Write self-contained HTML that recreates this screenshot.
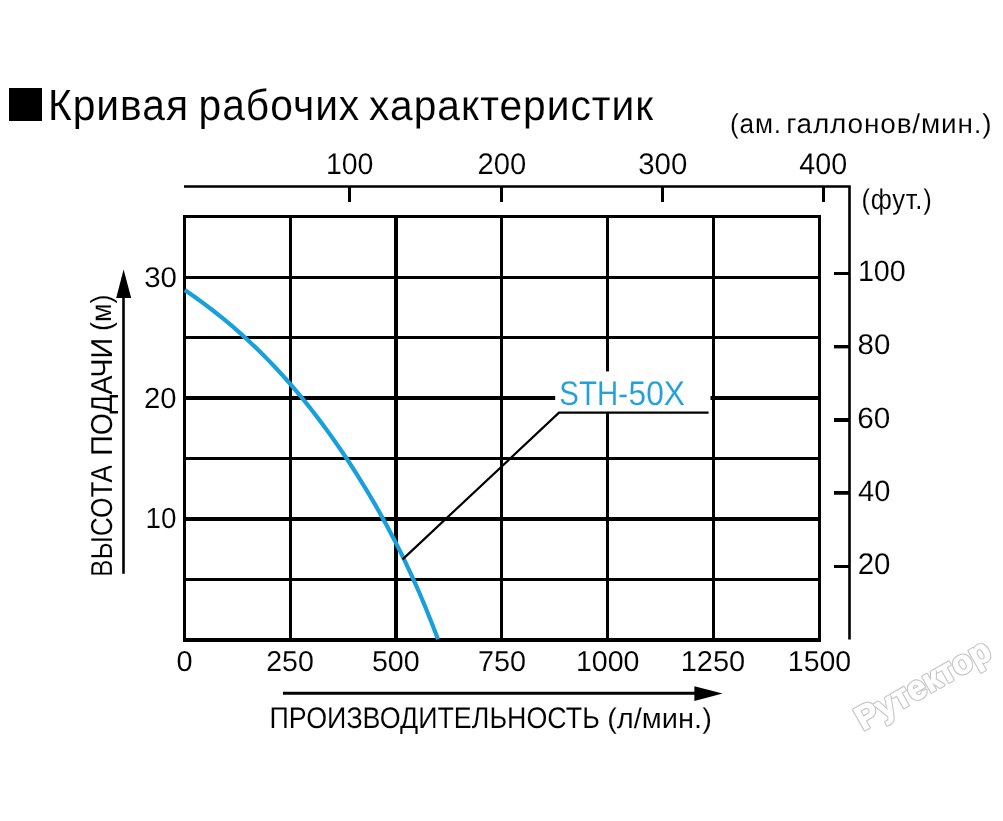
<!DOCTYPE html>
<html><head><meta charset="utf-8">
<style>
html,body{margin:0;padding:0;background:#fff;}
body{width:1003px;height:821px;overflow:hidden;position:relative;}
svg{position:absolute;left:0;top:0;will-change:transform;}
text{font-family:"Liberation Sans",sans-serif;text-rendering:geometricPrecision;fill:#000;stroke:#fff}
</style></head>
<body>
<svg width="1003" height="821" viewBox="0 0 1003 821">
<rect id="sq" x="9" y="88" width="33" height="33" fill="#000"/>
<g id="axes" stroke="#000" fill="none">
<path d="M184 186.5 H849.5 V639.5" stroke-width="2.6"/>
<path d="M349.5 186 V202 M501.5 186 V202 M662.5 186 V202 M823.5 186 V202" stroke-width="3"/>
<path d="M834 273.5 H849 M834 566.5 H849" stroke-width="3"/>
<path d="M834 346.7 H849" stroke-width="3.4"/>
<path d="M834 420 H849 M834 492.8 H849" stroke-width="3.8"/>
</g>
<g id="grid" stroke="#000" fill="none">
<path stroke-width="3" d="M184.5 215 V642 M290.5 215 V642 M501.5 215 V642 M607.5 215 V642 M713.5 215 V642 M819.5 215 V642"/>
<path stroke-width="4" d="M396 215 V642"/>
<path stroke-width="3" d="M183 216.5 H821 M183 277.5 H821 M183 337.5 H821 M183 458.5 H821 M183 579.5 H821"/>
<path stroke-width="4" d="M183 398 H821 M183 519 H821 M183 640 H821"/>
</g>
<g id="arrows">
<path d="M123.5 298 V573.7" stroke="#000" stroke-width="2.6"/>
<path d="M116.2 298 L131.2 298 L123.6 269.5 Z" fill="#000"/>
<path d="M283 693.3 H695" stroke="#000" stroke-width="3"/>
<path d="M694.4 686.2 L694.4 700.9 L722.6 693.5 Z" fill="#000"/>
</g>
<text id="title1" transform="matrix(0.99431 0 0 1.06214 47.909 119.773)" font-size="41" text-anchor="start" stroke-width="0.1" letter-spacing="1">Кривая</text>
<text id="title2" transform="matrix(0.99350 0 0 1.06709 198.539 119.503)" font-size="41" text-anchor="start" stroke-width="0.1" letter-spacing="1">рабочих</text>
<text id="title3" transform="matrix(0.99367 0 0 1.03902 369.069 120.442)" font-size="41" text-anchor="start" stroke-width="0.1" letter-spacing="1">характеристик</text>
<text id="gal1" transform="matrix(0.97052 0 0 1.01198 730.121 132.669)" font-size="27" text-anchor="start" stroke-width="0.1" letter-spacing="0.8">(ам.</text>
<text id="gal2" transform="matrix(1.03632 0 0 1.01247 786.156 132.670)" font-size="27" text-anchor="start" stroke-width="0.1" letter-spacing="0.8">галлонов/мин.)</text>
<text id="ft" transform="matrix(0.91456 0 0 1.01811 861.418 208.535)" font-size="28" text-anchor="start" stroke-width="0.1" letter-spacing="0.8">(фут.)</text>
<text id="t100" transform="matrix(0.94908 0 0 0.99057 325.916 173.528)" font-size="30" text-anchor="start" stroke-width="0.1">100</text>
<text id="t200" transform="matrix(0.97506 0 0 0.99057 477.401 173.528)" font-size="30" text-anchor="start" stroke-width="0.1">200</text>
<text id="t300" transform="matrix(0.98128 0 0 0.99057 638.132 173.528)" font-size="30" text-anchor="start" stroke-width="0.1">300</text>
<text id="t400" transform="matrix(0.95643 0 0 0.99057 799.269 173.528)" font-size="30" text-anchor="start" stroke-width="0.1">400</text>
<text id="r100" transform="matrix(0.95725 0 0 0.98444 857.892 280.646)" font-size="30" text-anchor="start" stroke-width="0.1">100</text>
<text id="r80" transform="matrix(0.98126 0 0 0.94973 857.542 353.573)" font-size="30" text-anchor="start" stroke-width="0.1">80</text>
<text id="r60" transform="matrix(0.99117 0 0 0.98333 857.283 427.602)" font-size="30" text-anchor="start" stroke-width="0.1">60</text>
<text id="r40" transform="matrix(0.96980 0 0 0.98666 858.086 500.590)" font-size="30" text-anchor="start" stroke-width="0.1">40</text>
<text id="r20" transform="matrix(0.98209 0 0 0.99776 857.636 574.345)" font-size="30" text-anchor="start" stroke-width="0.1">20</text>
<text id="l30" transform="matrix(0.98212 0 0 0.95125 144.217 286.521)" font-size="30" text-anchor="start" stroke-width="0.1">30</text>
<text id="l20" transform="matrix(0.97554 0 0 0.97277 144.015 407.653)" font-size="30" text-anchor="start" stroke-width="0.1">20</text>
<text id="l10" transform="matrix(0.92815 0 0 0.97242 145.479 528.412)" font-size="30" text-anchor="start" stroke-width="0.1">10</text>
<text id="b0" transform="matrix(0.96346 0 0 0.95705 176.556 671.437)" font-size="30" text-anchor="start" stroke-width="0.1">0</text>
<text id="b250" transform="matrix(0.95119 0 0 0.95705 266.153 671.437)" font-size="30" text-anchor="start" stroke-width="0.1">250</text>
<text id="b500" transform="matrix(0.95283 0 0 0.95705 371.957 671.437)" font-size="30" text-anchor="start" stroke-width="0.1">500</text>
<text id="b750" transform="matrix(0.95786 0 0 0.95705 477.913 671.437)" font-size="30" text-anchor="start" stroke-width="0.1">750</text>
<text id="b1000" transform="matrix(0.95200 0 0 0.95705 575.941 671.437)" font-size="30" text-anchor="start" stroke-width="0.1">1000</text>
<text id="b1250" transform="matrix(0.96713 0 0 0.95705 680.688 671.437)" font-size="30" text-anchor="start" stroke-width="0.1">1250</text>
<text id="b1500" transform="matrix(0.94858 0 0 0.95705 787.874 671.437)" font-size="30" text-anchor="start" stroke-width="0.1">1500</text>
<text id="ylab1" transform="translate(111.795 577.039) rotate(-90) scale(0.90474 1.04546)" font-size="29" stroke-width="0.1">ВЫСОТА</text>
<text id="ylab2" transform="translate(111.647 455.853) rotate(-90) scale(0.98440 1.04497)" font-size="29" stroke-width="0.1">ПОДАЧИ</text>
<text id="ylab3" transform="translate(111.196 330.895) rotate(-90) scale(0.92809 0.99939)" font-size="29" stroke-width="0.1">(м)</text>
<text id="xlab1" transform="matrix(0.95935 0 0 1.06359 269.555 728.497)" font-size="28" text-anchor="start" stroke-width="0.1">ПРОИЗВОДИТЕЛЬНОСТЬ</text>
<text id="xlab2" transform="matrix(1.03672 0 0 1.01813 607.191 727.606)" font-size="28" text-anchor="start" stroke-width="0.1">(л/мин.)</text>

<path id="curve" d="M184.80,290.10 L195.20,297.23 L204.94,304.35 L214.25,311.48 L223.16,318.61 L231.68,325.73 L239.86,332.86 L247.71,339.99 L255.26,347.11 L262.53,354.24 L269.54,361.37 L276.31,368.49 L282.85,375.62 L289.18,382.74 L295.31,389.87 L301.26,397.00 L307.05,404.12 L312.67,411.25 L318.15,418.38 L323.49,425.50 L328.69,432.63 L333.77,439.76 L338.73,446.88 L343.58,454.01 L348.32,461.14 L352.95,468.26 L357.49,475.39 L361.93,482.52 L366.27,489.64 L370.52,496.77 L374.68,503.90 L378.74,511.02 L382.72,518.15 L386.62,525.28 L390.42,532.40 L394.14,539.53 L397.78,546.66 L401.33,553.78 L404.80,560.91 L408.18,568.03 L411.49,575.16 L414.71,582.29 L417.86,589.41 L420.93,596.54 L423.93,603.67 L426.87,610.79 L429.73,617.92 L432.54,625.05 L435.29,632.17 L438.00,639.30" fill="none" stroke="#17a0dc" stroke-width="4.2" stroke-linejoin="round"/>
<rect id="sthbg" x="555.2" y="371.4" width="155.3" height="40.6" fill="#fff"/>
<text id="sth1" transform="matrix(0.89044 0 0 1.03689 559.358 404.591)" font-size="33" text-anchor="start" stroke-width="0.1" style="fill:#22a0d8">STH-</text>
<text id="sth2" transform="matrix(0.95999 0 0 1.03686 628.605 404.689)" font-size="33" text-anchor="start" stroke-width="0.1" style="fill:#22a0d8">50X</text>
<path id="leader" d="M708.6 412.7 H559 L402.6 559.4" fill="none" stroke="#000" stroke-width="2.2"/>
<g id="wm" transform="translate(863 731) rotate(-29.5)" font-size="33.5" font-weight="bold" style="letter-spacing:0px">
<text style="fill:#fff;stroke:#c8c8c8;stroke-width:3.2;stroke-linejoin:round">Рутектор</text>
<text style="fill:#fff;stroke:#fff;stroke-width:0.8;stroke-linejoin:round">Рутектор</text>
</g>
</svg>
</body></html>
